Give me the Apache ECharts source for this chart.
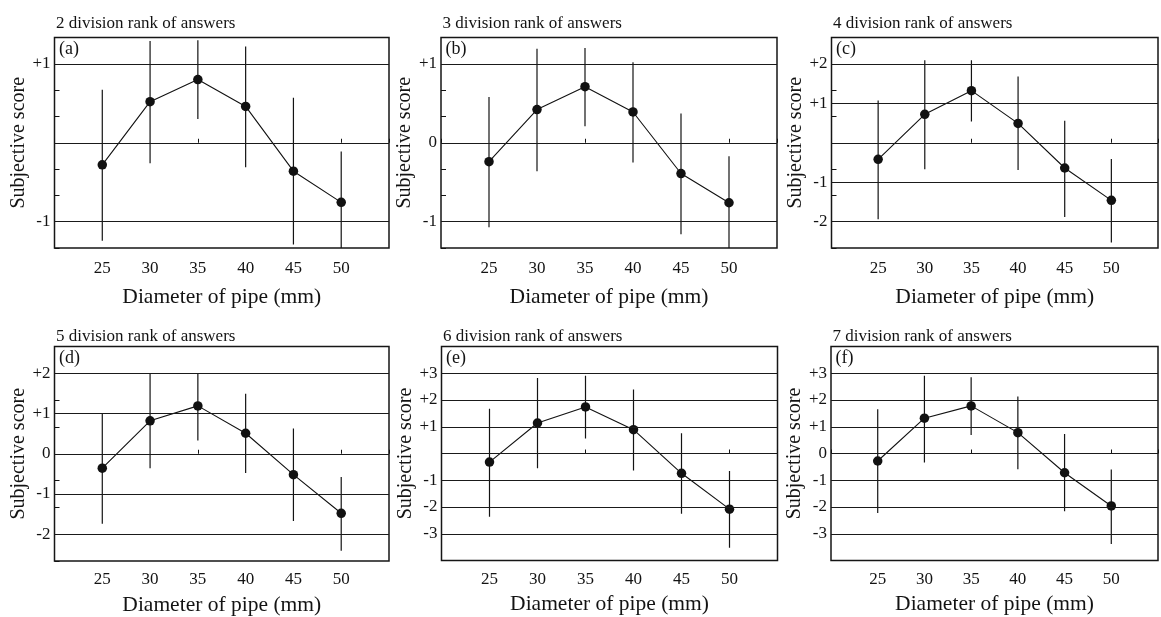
<!DOCTYPE html>
<html>
<head>
<meta charset="utf-8">
<script src="https://cdn.jsdelivr.net/npm/echarts@6/dist/echarts.min.js"></script>
<style>
  html, body { margin: 0; padding: 0; background: #fff; }
  #chart { width: 1161px; height: 617px; }
</style>
</head>
<body>
<div id="chart"></div>
<script>
// ---------- DATA ----------
const diameters = [25, 30, 35, 40, 45, 50];
const panelTitles = ['2 division rank of answers', '3 division rank of answers', '4 division rank of answers',
                     '5 division rank of answers', '6 division rank of answers', '7 division rank of answers'];
const panelLetters = ['(a)', '(b)', '(c)', '(d)', '(e)', '(f)'];

const meanA = [-0.28, 0.52, 0.80, 0.46, -0.36, -0.755];
const meanB = [-0.24, 0.42, 0.71, 0.39, -0.39, -0.76];
const meanC = [-0.42, 0.72, 1.32, 0.49, -0.64, -1.46];
const meanD = [-0.36, 0.82, 1.19, 0.51, -0.52, -1.48];
const meanE = [-0.32, 1.14, 1.74, 0.89, -0.74, -2.08];
const meanF = [-0.28, 1.32, 1.78, 0.78, -0.72, -1.96];

const upperA = [0.67, 1.29, 1.30, 1.22, 0.57, -0.11];
const upperB = [0.58, 1.19, 1.20, 1.02, 0.37, -0.17];
const upperC = [1.07, 2.09, 2.09, 1.68, 0.56, -0.41];
const upperD = [1.01, 1.99, 1.99, 1.49, 0.63, -0.58];
const upperE = [1.67, 2.82, 2.91, 2.39, 0.76, -0.65];
const upperF = [1.65, 2.91, 2.85, 2.13, 0.73, -0.60];

const lowerA = [-1.24, -0.26, 0.30, -0.31, -1.29, -1.40];
const lowerB = [-1.07, -0.36, 0.21, -0.25, -1.16, -1.40];
const lowerC = [-1.94, -0.67, 0.54, -0.69, -1.88, -2.53];
const lowerD = [-1.74, -0.36, 0.33, -0.48, -1.67, -2.41];
const lowerE = [-2.36, -0.55, 0.56, -0.64, -2.25, -3.52];
const lowerF = [-2.22, -0.34, 0.69, -0.59, -2.16, -3.38];

// axis ranges / tick labels
const xMin = 20, xMax = 55, xStep = 5;
const xTickLabels = [25, 30, 35, 40, 45, 50];
const yMaxes = [4 / 3, 4 / 3, 8 / 3, 8 / 3, 4, 4];
const yLabelValues = [
  [1, -1],
  [1, 0, -1],
  [2, 1, -1, -2],
  [2, 1, 0, -1, -2],
  [3, 2, 1, -1, -2, -3],
  [3, 2, 1, 0, -1, -2, -3]
];
const yGridValues = [
  [1, 0, -1],
  [1, 0, -1],
  [2, 1, 0, -1, -2],
  [2, 1, 0, -1, -2],
  [3, 2, 1, 0, -1, -2, -3],
  [3, 2, 1, 0, -1, -2, -3]
];

const means = [meanA, meanB, meanC, meanD, meanE, meanF];
const uppers = [upperA, upperB, upperC, upperD, upperE, upperF];
const lowers = [lowerA, lowerB, lowerC, lowerD, lowerE, lowerF];

// ---------- LAYOUT ----------
const FONT = "'Liberation Serif', 'Times New Roman', serif";
const INK = '#131313';
const boxes = [
  { left: 54.5, top: 37.5, width: 334.5, height: 210.5 },
  { left: 441, top: 37.5, width: 336, height: 210.5 },
  { left: 831.5, top: 37.5, width: 335, height: 210.5 },
  { left: 54.5, top: 346.5, width: 334.5, height: 216 },
  { left: 441.5, top: 346.5, width: 336, height: 214 },
  { left: 831, top: 346.5, width: 335, height: 214 }
];

const grids = [], xAxes = [], yAxes = [], series = [], titles = [];

boxes.forEach((b, i) => {
  const row = i < 3 ? 0 : 1;
  grids.push({
    left: b.left, top: b.top, width: b.width, height: b.height,
    show: true, borderColor: '#161616', borderWidth: 1.5, backgroundColor: 'transparent',
    containLabel: false
  });
  // main x axis (labels)
  xAxes.push({
    gridIndex: i, type: 'value', min: xMin, max: xMax, interval: xStep,
    axisLine: { show: false, onZero: false },
    axisTick: { show: false },
    splitLine: { show: false },
    axisLabel: {
      margin: row === 0 ? 12 : 10.5, fontFamily: FONT, fontSize: 17, color: INK,
      formatter: v => (xTickLabels.indexOf(Math.round(v)) >= 0 && Math.abs(v - Math.round(v)) < 1e-6) ? String(Math.round(v)) : ''
    },
    name: 'Diameter of pipe (mm)', nameLocation: 'middle', nameGap: row === 0 ? 38 : 33,
    nameTextStyle: { fontFamily: FONT, fontSize: 21.5, color: INK }
  });
  // secondary x axis sitting on the zero line (small tick marks)
  xAxes.push({
    gridIndex: i, type: 'value', min: xMin, max: xMax, interval: 15, position: 'bottom',
    axisLine: { show: false, onZero: true },
    axisTick: { show: true, inside: true, length: 4, lineStyle: { color: INK, width: 1 } },
    axisLabel: { show: false },
    splitLine: { show: false }
  });
  const ym = yMaxes[i];
  yAxes.push({
    gridIndex: i, type: 'value', min: -ym, max: ym, interval: ym / 4,
    axisLine: { show: false, onZero: false },
    axisTick: { show: true, inside: true, length: 5, lineStyle: { color: INK, width: 1 } },
    splitLine: { show: false },
    axisLabel: {
      customValues: yLabelValues[i],
      margin: 4, fontFamily: FONT, fontSize: 17, color: INK,
      formatter: v => {
        const r = Math.round(v);
        return r > 0 ? '+' + r : String(r);
      }
    },
    name: 'Subjective score', nameLocation: 'middle', nameGap: 17,
    nameTextStyle: { fontFamily: FONT, fontSize: 20, color: INK }
  });

  // error bars + gridlines
  series.push({
    type: 'custom', xAxisIndex: 2 * i, yAxisIndex: i, clip: true, z: 2,
    data: diameters.map((d, k) => [d, lowers[i][k], uppers[i][k]]),
    renderItem: (params, api) => {
      const p1 = api.coord([api.value(0), api.value(1)]);
      const p2 = api.coord([api.value(0), api.value(2)]);
      return {
        type: 'line',
        shape: { x1: p1[0], y1: p1[1], x2: p2[0], y2: p2[1] },
        style: { stroke: INK, lineWidth: 1.2 }
      };
    },
    markLine: {
      silent: true, symbol: ['none', 'none'], animation: false,
      label: { show: false },
      lineStyle: { color: '#1a1a1a', width: 1.2, type: 'solid' },
      emphasis: { disabled: true },
      data: yGridValues[i].map(v => ({ yAxis: v }))
    }
  });
  // means
  series.push({
    type: 'line', xAxisIndex: 2 * i, yAxisIndex: i, z: 3,
    data: diameters.map((d, k) => [d, means[i][k]]),
    symbol: 'circle', symbolSize: 9.5,
    itemStyle: { color: '#111' },
    lineStyle: { color: '#111', width: 1.1 }
  });

  titles.push({
    text: panelTitles[i], left: b.left + 1.5, top: row === 0 ? 15 : 328, padding: 0,
    textStyle: { fontFamily: FONT, fontSize: 17, fontWeight: 'normal', color: INK }
  });
  titles.push({
    text: panelLetters[i], left: b.left + 4.5, top: b.top + 3, padding: 0,
    textStyle: { fontFamily: FONT, fontSize: 18, fontWeight: 'normal', color: INK }
  });
});

const chart = echarts.init(document.getElementById('chart'), null, { renderer: 'canvas' });
chart.setOption({
  animation: false,
  backgroundColor: '#fff',
  title: titles,
  grid: grids,
  xAxis: xAxes,
  yAxis: yAxes,
  series: series
});
</script>
</body>
</html>
